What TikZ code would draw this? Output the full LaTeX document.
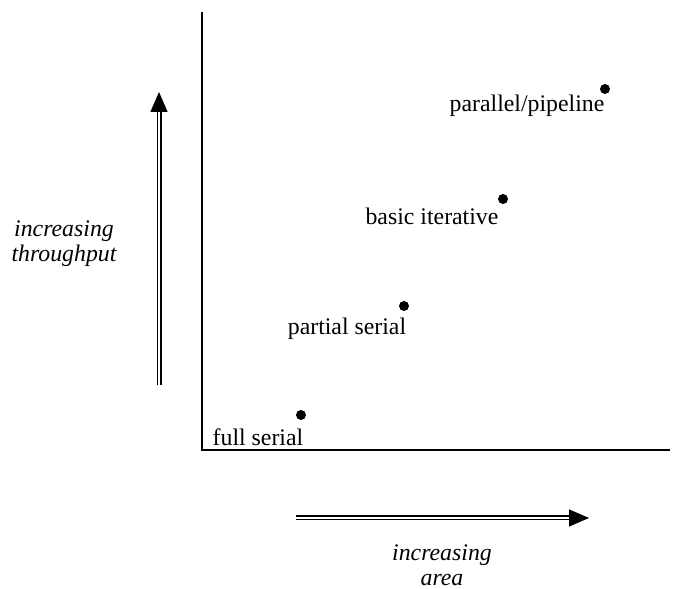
\documentclass[tikz,border=0pt]{standalone}
\usepackage{fontspec}
\setmainfont{Liberation Serif}
\usetikzlibrary{arrows.meta}
\begin{document}
\begin{tikzpicture}[x=1pt,y=1pt,
  axis/.style={line width=1.4pt},
  pt/.style={circle,fill=black,inner sep=0pt,minimum size=10pt},
  lbl/.style={font=\fontsize{23.8}{27}\selectfont,inner sep=0pt},
  trend/.style={double,double distance=2.2pt,line width=1.4pt,
    -{Triangle[length=20pt,width=17pt]}}]
\useasboundingbox (0,0) rectangle (694,589);
% axes
\coordinate (top) at (202,577);
\coordinate (origin) at (202,139);
\coordinate (right) at (670,139);
\draw[axis] (top) -- (origin) -- (right);
% design points
\node[pt] (fs) at (301,174) {};
\node[pt] (ps) at (404,283) {};
\node[pt] (bi) at (503,390) {};
\node[pt] (pp) at (605,500) {};
\node[lbl] (fsl) at (258,152) {full serial};
\node[lbl] (psl) at (347,260) {partial serial};
\node[lbl] (bil) at (432,373) {basic iterative};
\node[lbl] (ppl) at (527,483) {parallel/pipeline};
% trend arrows
\coordinate (ta) at (159,204);
\coordinate (tb) at (159,497);
\draw[trend] (ta) -- (tb);
\coordinate (aa) at (296,71);
\coordinate (ab) at (589,71);
\draw[trend] (aa) -- (ab);
\node[lbl,font=\fontsize{23.8}{25}\selectfont\itshape,align=center] (thr) at (64,345) {increasing\\throughput};
\node[lbl,font=\fontsize{23.8}{25}\selectfont\itshape,align=center] (ar) at (442,24) {increasing\\area};
\end{tikzpicture}
\end{document}
